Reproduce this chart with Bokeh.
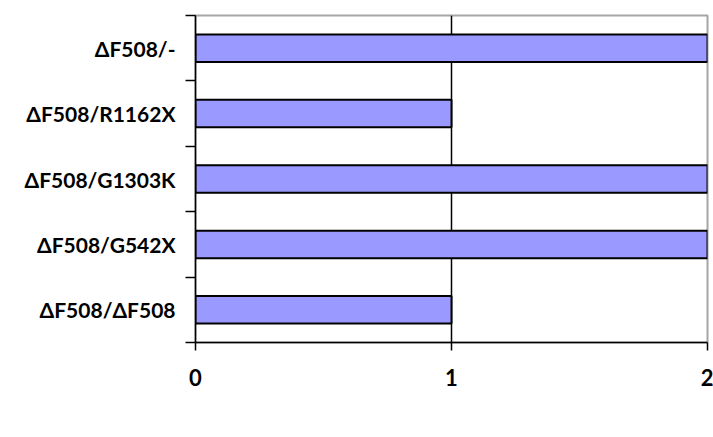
from bokeh.plotting import figure
from bokeh.models import FixedTicker, Legend, LegendItem, Range1d, ColumnDataSource
from bokeh.embed import file_html
from bokeh.resources import INLINE

categories = ["ΔF508/ΔF508", "ΔF508/G542X", "ΔF508/G1303K", "ΔF508/R1162X", "ΔF508/-"]
casos = [1, 2, 2, 1, 2]
x_ticks = [0, 1, 2]
series_name = "No de Casos"

FONT = "Lato"
ypos = [i + 0.5 for i in range(len(categories))]
src = ColumnDataSource(dict(y=ypos, v=casos, cat=categories))

p = figure(frame_width=512, frame_height=327, output_backend="svg", toolbar_location=None,
           x_range=Range1d(0, 2), y_range=Range1d(0, len(categories)),
           min_border_left=195, min_border_right=6, min_border_top=15, min_border_bottom=0)

r = p.hbar(y="y", right="v", left=0, height=0.42, source=src,
           fill_color="#9999FF", line_color="black", line_width=2)

p.outline_line_color = "#A6A6A6"
p.outline_line_width = 2
p.background_fill_color = "white"
p.border_fill_color = "white"

# x axis
xa = p.xaxis[0]
xa.ticker = FixedTicker(ticks=x_ticks, minor_ticks=[])
xa.axis_line_color = "black"
xa.axis_line_width = 1.5
xa.major_tick_line_color = "black"
xa.major_tick_line_width = 1.5
xa.major_tick_in = 0
xa.major_tick_out = 8
xa.minor_tick_line_color = None
xa.major_label_text_font = FONT
xa.major_label_text_font_style = "bold"
xa.major_label_text_font_size = "22px"
xa.major_label_text_color = "black"
xa.major_label_standoff = 18

# y axis
ya = p.yaxis[0]
ya.ticker = FixedTicker(ticks=ypos, minor_ticks=list(range(len(categories) + 1)))
ya.major_label_overrides = {y: c for y, c in zip(ypos, categories)}
ya.axis_line_color = "black"
ya.axis_line_width = 1.5
ya.major_tick_line_color = None
ya.major_tick_in = 0
ya.major_tick_out = 0
ya.minor_tick_line_color = "black"
ya.minor_tick_line_width = 1.5
ya.minor_tick_in = 0
ya.minor_tick_out = 10
ya.major_label_text_font = FONT
ya.major_label_text_font_style = "bold"
ya.major_label_text_font_size = "21px"
ya.major_label_text_color = "black"
ya.major_label_standoff = 10

p.ygrid.visible = False
p.xgrid.ticker = FixedTicker(ticks=[1])
p.xgrid.grid_line_color = "black"
p.xgrid.grid_line_width = 1.5

legend = Legend(items=[LegendItem(label=series_name, renderers=[r])],
                location="top_center", orientation="horizontal",
                border_line_color="black", border_line_width=1.5,
                label_text_font=FONT, label_text_font_style="bold",
                label_text_font_size="16px", glyph_width=10, glyph_height=10,
                padding=10, margin=0, label_standoff=8, label_width=150,
                background_fill_color="white", background_fill_alpha=1)
legend.label_height = 20
p.add_layout(legend, "below")

open("out.html", "w").write(file_html(p, INLINE))
